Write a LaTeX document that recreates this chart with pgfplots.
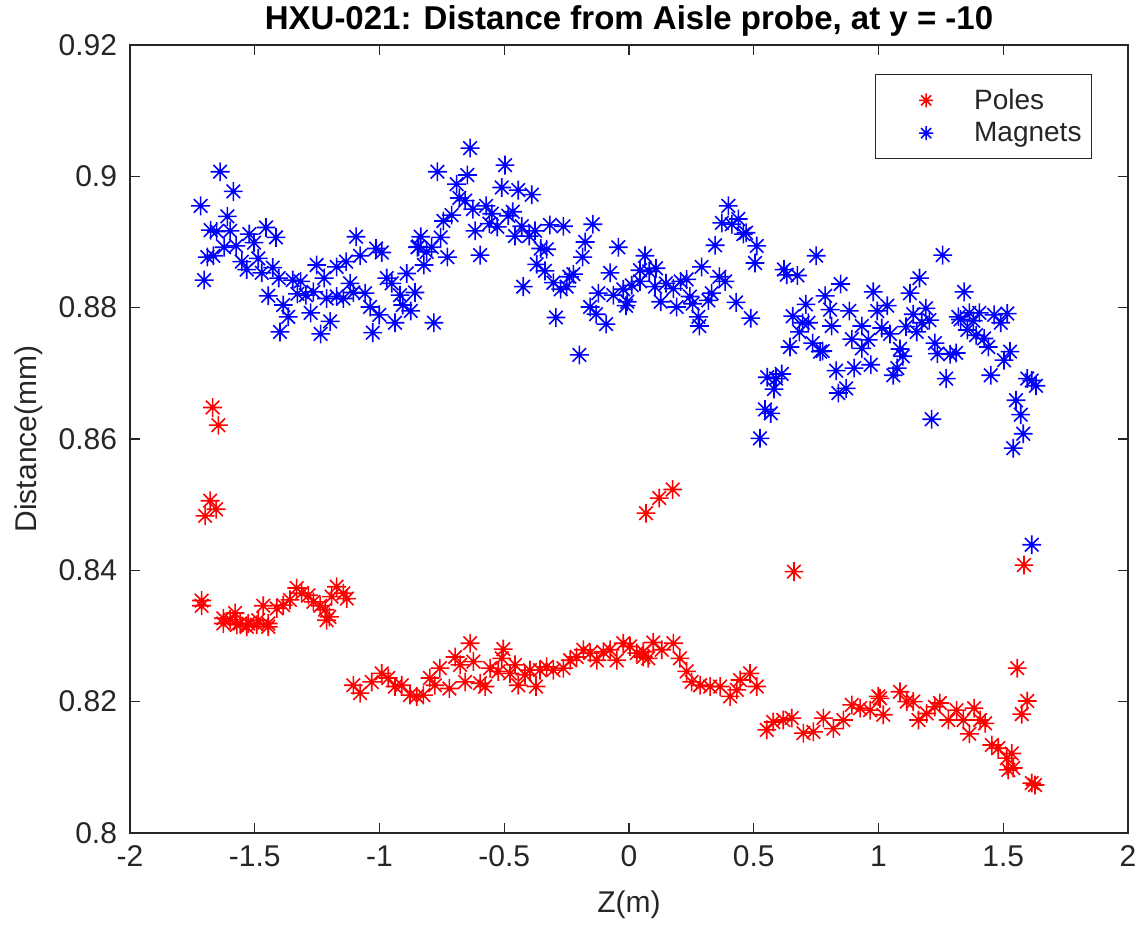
\documentclass[border=0pt]{standalone}
\usepackage{fontspec}
\setmainfont{Liberation Sans}
\usepackage{pgfplots}
\pgfplotsset{compat=1.18}
\definecolor{axgray}{gray}{0.15}
\pgfdeclareplotmark{mstar}{%
  \pgfpathmoveto{\pgfqpoint{-\pgfplotmarksize}{0pt}}\pgfpathlineto{\pgfqpoint{\pgfplotmarksize}{0pt}}%
  \pgfpathmoveto{\pgfqpoint{0pt}{-\pgfplotmarksize}}\pgfpathlineto{\pgfqpoint{0pt}{\pgfplotmarksize}}%
  \pgfpathmoveto{\pgfqpoint{-0.72\pgfplotmarksize}{-0.72\pgfplotmarksize}}\pgfpathlineto{\pgfqpoint{0.72\pgfplotmarksize}{0.72\pgfplotmarksize}}%
  \pgfpathmoveto{\pgfqpoint{-0.72\pgfplotmarksize}{0.72\pgfplotmarksize}}\pgfpathlineto{\pgfqpoint{0.72\pgfplotmarksize}{-0.72\pgfplotmarksize}}%
  \pgfusepathqstroke}
\pgfplotsset{
  mstarlegend/.style={legend image code/.code={%
    \path[draw=none,fill=none] (0pt,-3pt) rectangle (44.5pt,3pt);
    \draw[##1,only marks,mark size=3.5pt] plot coordinates {(22.5pt,0pt)};}}
}
\begin{document}
\begin{tikzpicture}
\begin{axis}[
  width=499pt, height=394pt, scale only axis,
  xmin=-2, xmax=2, ymin=0.8, ymax=0.92,
  xtick={-2,-1.5,-1,-0.5,0,0.5,1,1.5,2},
  ytick={0.8,0.82,0.84,0.86,0.88,0.9,0.92},
  /pgf/number format/assume math mode=true,
  scaled y ticks=false, scaled x ticks=false,
  yticklabel style={/pgf/number format/fixed,/pgf/number format/precision=2, xshift=-3pt},
  xticklabel style={/pgf/number format/fixed, yshift=-3pt},
  tick label style={font=\fontsize{15}{17}\selectfont, color=axgray},
  axis line style={axgray, line width=0.6pt},
  tick style={axgray, line width=0.6pt},
  major tick length=5pt,
  title={\bfseries HXU-021: Distance from Aisle probe, at y = -10},
  title style={font=\fontsize{16.5}{19}\selectfont, color=black, at={(0.5,1)}, anchor=base, yshift=1.5pt},
  xlabel={Z(m)}, ylabel={Distance(mm)},
  label style={font=\fontsize{15}{18}\selectfont, color=axgray},
  xlabel shift=5pt, ylabel shift=1pt,
  legend style={at={(0.964,0.963)}, anchor=north east, draw=axgray, line width=0.6pt,
    font=\fontsize{14}{16}\selectfont, text=axgray, cells={anchor=west}, inner ysep=5pt, row sep=1pt},
  clip=false,
]
\addplot[only marks, mark=mstar, mark size=4.7pt, line width=0.8pt, color=red, mstarlegend] table {
-1.669 0.8648
-1.646 0.8621
-1.679 0.8506
-1.655 0.8493
-1.699 0.8483
-1.713 0.8354
-1.713 0.8346
-1.626 0.8327
-1.599 0.8325
-1.579 0.8335
-1.559 0.8319
-1.526 0.8319
-1.486 0.8324
-1.466 0.8346
-1.446 0.8319
-1.412 0.8342
-1.386 0.8347
-1.359 0.8355
-1.332 0.8373
-1.312 0.8365
-1.285 0.8362
-1.265 0.8352
-1.238 0.8346
-1.218 0.8340
-1.201 0.8329
-1.172 0.8375
-1.145 0.8365
-1.131 0.8357
-1.192 0.8360
-1.626 0.8319
-1.572 0.8317
-1.532 0.8314
-1.492 0.8317
-1.446 0.8314
-1.212 0.8324
-1.105 0.8225
-1.078 0.8213
-1.031 0.8230
-0.991 0.8243
-0.965 0.8236
-0.938 0.8223
-0.911 0.8225
-0.878 0.8210
-0.851 0.8208
-0.824 0.8210
-0.798 0.8236
-0.778 0.8225
-0.758 0.8251
-0.720 0.8220
-0.697 0.8268
-0.677 0.8256
-0.657 0.8230
-0.637 0.8289
-0.624 0.8261
-0.597 0.8228
-0.577 0.8223
-0.557 0.8251
-0.524 0.8246
-0.504 0.8280
-0.510 0.8266
-0.477 0.8243
-0.457 0.8256
-0.444 0.8225
-0.417 0.8241
-0.397 0.8248
-0.373 0.8223
-0.357 0.8248
-0.330 0.8253
-0.303 0.8248
-0.263 0.8251
-0.236 0.8263
-0.210 0.8268
-0.183 0.8279
-0.156 0.8274
-0.129 0.8263
-0.103 0.8276
-0.076 0.8279
-0.049 0.8263
-0.023 0.8289
0.004 0.8284
0.031 0.8274
0.057 0.8276
0.077 0.8266
0.068 0.8487
0.121 0.8510
0.175 0.8523
0.661 0.8398
0.057 0.8268
0.097 0.8290
0.131 0.8279
0.178 0.8289
0.204 0.8266
0.231 0.8246
0.251 0.8230
0.285 0.8225
0.325 0.8223
0.365 0.8223
0.405 0.8208
0.445 0.8233
0.485 0.8243
0.512 0.8223
0.432 0.8218
0.552 0.8157
0.578 0.8169
0.618 0.8172
0.652 0.8175
0.699 0.8152
0.739 0.8154
0.779 0.8175
0.819 0.8159
0.859 0.8172
0.893 0.8195
0.926 0.8190
0.966 0.8187
0.999 0.8208
1.583 0.8408
1.556 0.8251
1.596 0.8201
1.574 0.8181
1.006 0.8205
1.019 0.8180
1.086 0.8215
1.113 0.8200
1.139 0.8200
1.160 0.8172
1.193 0.8182
1.226 0.8192
1.246 0.8198
1.280 0.8172
1.313 0.8187
1.340 0.8172
1.364 0.8151
1.383 0.8190
1.407 0.8172
1.427 0.8167
1.454 0.8134
1.480 0.8129
1.514 0.8114
1.534 0.8121
1.540 0.8099
1.520 0.8096
1.614 0.8076
1.627 0.8073
};
\addlegendentry{Poles}
\addplot[only marks, mark=mstar, mark size=4.7pt, line width=0.8pt, color=blue, mstarlegend] table {
-1.639 0.9007
-1.586 0.8977
-1.717 0.8955
-1.610 0.8939
-1.677 0.8918
-1.653 0.8916
-1.599 0.8917
-1.522 0.8912
-1.455 0.8922
-1.415 0.8907
-1.503 0.8899
-1.575 0.8894
-1.623 0.8892
-1.666 0.8879
-1.690 0.8877
-1.703 0.8842
-1.552 0.8870
-1.486 0.8875
-1.532 0.8858
-1.472 0.8853
-1.428 0.8861
-1.404 0.8845
-1.446 0.8818
-1.348 0.8842
-1.316 0.8840
-1.252 0.8865
-1.222 0.8845
-1.172 0.8862
-1.134 0.8870
-1.094 0.8908
-1.078 0.8879
-1.014 0.8890
-0.991 0.8884
-1.118 0.8837
-1.265 0.8824
-1.329 0.8821
-1.295 0.8819
-1.386 0.8804
-1.366 0.8786
-1.399 0.8763
-1.276 0.8792
-1.236 0.8760
-1.198 0.8779
-1.212 0.8814
-1.172 0.8817
-1.145 0.8814
-1.105 0.8823
-1.058 0.8822
-1.038 0.8801
-1.001 0.8789
-1.027 0.8762
-0.938 0.8777
-0.971 0.8845
-0.951 0.8837
-0.891 0.8852
-0.918 0.8819
-0.875 0.8795
-0.858 0.8823
-0.907 0.8804
-0.844 0.8893
-0.637 0.9043
-0.768 0.9007
-0.648 0.9002
-0.497 0.9017
-0.691 0.8988
-0.510 0.8983
-0.444 0.8979
-0.390 0.8972
-0.680 0.8967
-0.657 0.8963
-0.711 0.8941
-0.744 0.8932
-0.626 0.8950
-0.573 0.8955
-0.550 0.8943
-0.560 0.8928
-0.528 0.8923
-0.484 0.8940
-0.466 0.8946
-0.617 0.8917
-0.430 0.8924
-0.457 0.8909
-0.400 0.8909
-0.377 0.8917
-0.755 0.8907
-0.835 0.8908
-0.848 0.8892
-0.791 0.8892
-0.811 0.8885
-0.728 0.8877
-0.822 0.8865
-0.597 0.8880
-0.317 0.8926
-0.263 0.8924
-0.145 0.8927
-0.176 0.8900
-0.354 0.8890
-0.330 0.8889
-0.186 0.8877
-0.370 0.8866
-0.337 0.8856
-0.043 0.8892
-0.076 0.8853
-0.303 0.8838
-0.274 0.8828
-0.250 0.8832
-0.223 0.8851
-0.239 0.8847
-0.424 0.8832
-0.782 0.8777
-0.293 0.8785
-0.199 0.8728
-0.156 0.8801
-0.132 0.8790
-0.092 0.8775
-0.123 0.8822
-0.063 0.8819
-0.012 0.8803
-0.007 0.8809
-0.023 0.8828
0.011 0.8834
0.044 0.8840
0.064 0.8879
0.044 0.8857
0.081 0.8855
0.108 0.8860
0.104 0.8832
0.127 0.8809
0.148 0.8837
0.178 0.8829
0.191 0.8801
0.207 0.8840
0.231 0.8843
0.244 0.8817
0.255 0.8806
0.278 0.8786
0.282 0.8772
0.291 0.8862
0.318 0.8811
0.331 0.8822
0.362 0.8847
0.385 0.8840
0.398 0.8955
0.372 0.8929
0.412 0.8927
0.438 0.8935
0.458 0.8912
0.469 0.8914
0.345 0.8895
0.512 0.8894
0.505 0.8868
0.429 0.8808
0.488 0.8784
0.621 0.8858
0.632 0.8850
0.675 0.8849
0.750 0.8879
0.656 0.8787
0.709 0.8805
0.696 0.8777
0.719 0.8777
0.683 0.8763
0.786 0.8818
0.806 0.8797
0.812 0.8772
0.848 0.8836
0.883 0.8795
0.893 0.8752
0.736 0.8746
0.766 0.8733
0.776 0.8734
0.645 0.8740
0.933 0.8772
0.959 0.8751
0.933 0.8738
0.979 0.8824
0.995 0.8795
0.969 0.8713
0.902 0.8708
0.830 0.8704
0.870 0.8677
0.839 0.8670
0.554 0.8694
0.589 0.8692
0.612 0.8699
0.581 0.8676
0.545 0.8645
0.568 0.8639
0.525 0.8601
1.257 0.8880
1.164 0.8845
1.126 0.8822
1.343 0.8824
1.035 0.8803
1.139 0.8790
1.190 0.8799
1.173 0.8777
1.204 0.8781
1.110 0.8771
1.013 0.8769
1.046 0.8760
1.153 0.8763
1.320 0.8786
1.329 0.8782
1.364 0.8792
1.380 0.8780
1.404 0.8792
1.463 0.8789
1.516 0.8791
1.490 0.8777
1.356 0.8766
1.391 0.8758
1.423 0.8753
1.440 0.8740
1.527 0.8733
1.503 0.8720
1.226 0.8746
1.236 0.8730
1.287 0.8729
1.311 0.8731
1.086 0.8737
1.097 0.8726
1.075 0.8708
1.059 0.8697
1.271 0.8692
1.450 0.8697
1.596 0.8692
1.614 0.8689
1.631 0.8681
1.213 0.8630
1.551 0.8659
1.570 0.8637
1.580 0.8608
1.540 0.8586
1.614 0.8439
};
\addlegendentry{Magnets}
\coordinate (bbsw) at (rel axis cs:-0.1303,-0.1282);
\coordinate (bbne) at (rel axis cs:1.0130,1.0571);
\end{axis}
\pgfresetboundingbox
\path (bbsw) rectangle (bbne);
\end{tikzpicture}
\end{document}
